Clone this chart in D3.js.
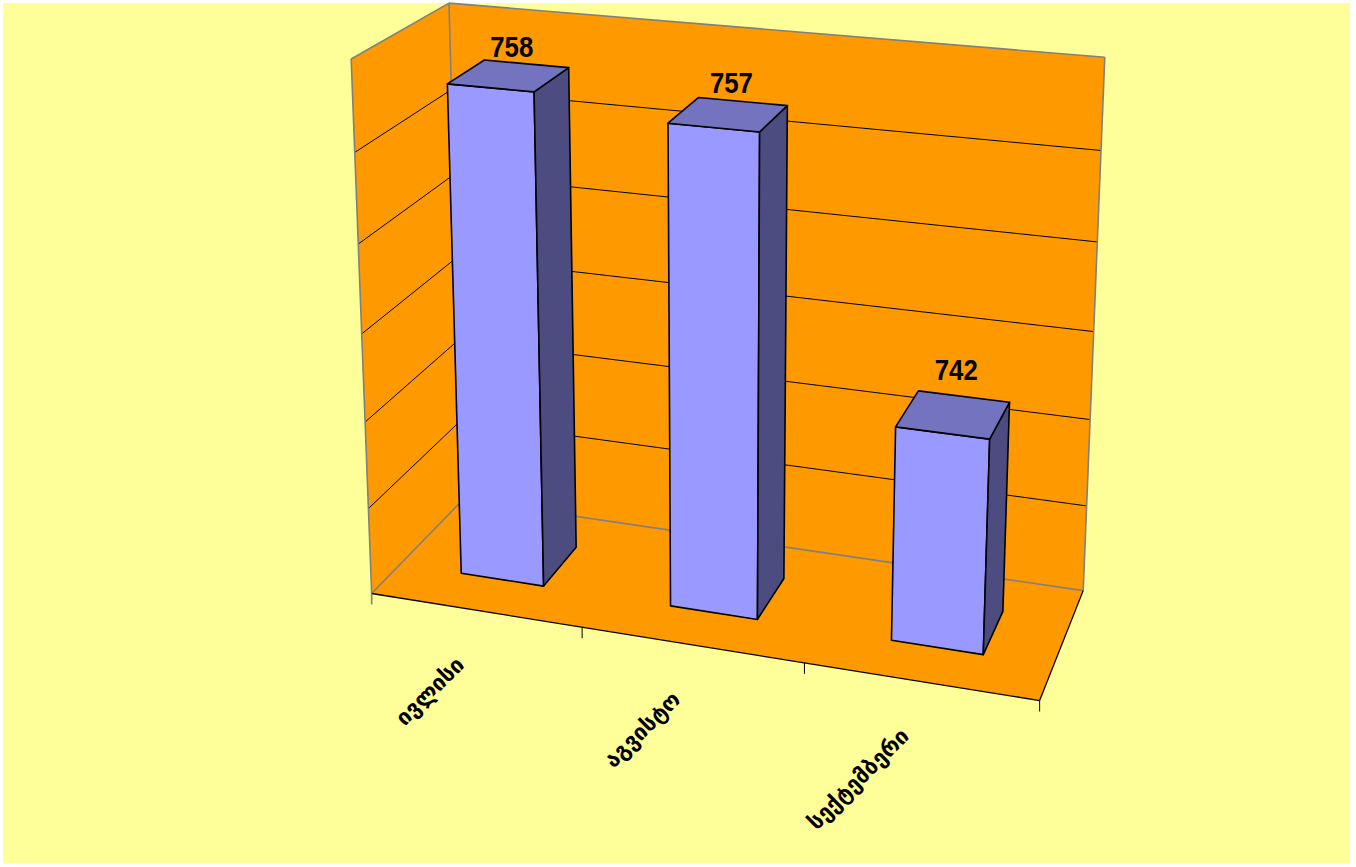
<!DOCTYPE html>
<html>
<head>
<meta charset="utf-8">
<script src="https://cdn.jsdelivr.net/npm/d3@7/dist/d3.min.js"></script>
<style>
  html, body { margin: 0; padding: 0; background: #ffffff; }
  svg { display: block; }
</style>
</head>
<body>
<svg id="chart" width="1356" height="867"></svg>
<script>
// ---------------- data ----------------
const categories = ["ივლისი", "აგვისტო", "სექტემბერი"];
const values = [758, 757, 742];
const valueTicks = [730, 735, 740, 745, 750, 755, 760];

// camera calibration: world (X category 0..1, Y value 0..1, Z depth 0 back..1 front) -> screen
const calib = [
  [0, 1, 0, 449, 3],
  [1, 1, 0, 1105, 58],
  [1, 0, 0, 1083, 591],
  [0, 1, 1, 351, 59],
  [0, 0, 1, 372, 593],
  [1, 0, 1, 1040, 700],
  [1/3, 0, 1, 582, 628],
  [2/3, 0, 1, 804, 663],
  [1, 5/6, 0, 1101, 150],
  [1, 4/6, 0, 1097, 242],
  [1, 3/6, 0, 1094, 331]
];

// ---------------- camera fit (DLT least squares) ----------------
function fitCamera(pts) {
  const A = [], b = [];
  for (const [X, Y, Z, u0, v0] of pts) {
    const u = u0 / 1000, v = v0 / 1000;
    A.push([X, Y, Z, 1, 0, 0, 0, 0, -u * X, -u * Y, -u * Z]); b.push(u);
    A.push([0, 0, 0, 0, X, Y, Z, 1, -v * X, -v * Y, -v * Z]); b.push(v);
  }
  const n = 11;
  const M = [];
  for (let i = 0; i < n; i++) {
    const row = new Array(n + 1).fill(0);
    for (let j = 0; j < n; j++) {
      let s = 0;
      for (let k = 0; k < A.length; k++) s += A[k][i] * A[k][j];
      row[j] = s;
    }
    let s = 0;
    for (let k = 0; k < A.length; k++) s += A[k][i] * b[k];
    row[n] = s;
    M.push(row);
  }
  for (let c = 0; c < n; c++) {
    let piv = c;
    for (let r = c + 1; r < n; r++) if (Math.abs(M[r][c]) > Math.abs(M[piv][c])) piv = r;
    [M[c], M[piv]] = [M[piv], M[c]];
    for (let r = 0; r < n; r++) {
      if (r === c) continue;
      const f = M[r][c] / M[c][c];
      for (let k = c; k <= n; k++) M[r][k] -= f * M[c][k];
    }
  }
  return M.map((row, i) => row[n] / row[i]);
}
const P = fitCamera(calib);
function project(X, Y, Z) {
  const w = P[8] * X + P[9] * Y + P[10] * Z + 1;
  return [1000 * (P[0] * X + P[1] * Y + P[2] * Z + P[3]) / w,
          1000 * (P[4] * X + P[5] * Y + P[6] * Z + P[7]) / w];
}

// ---------------- scales ----------------
const xBand = d3.scaleBand().domain(categories).range([0, 1]).paddingInner(0.6).paddingOuter(0.3);
const xCat = d3.scaleBand().domain(categories).range([0, 1]);
const yScale = d3.scaleLinear().domain([730, 760]).range([0, 1]);
const zFront = 0.7, zBack = 0.3;

const svg = d3.select("#chart");
const line = d3.line();
const poly = pts => line(pts.map(p => project(...p))) + "Z";
const seg = (a, b) => line([project(...a), project(...b)]);

// background
svg.append("rect").attr("x", 3).attr("y", 3).attr("width", 1347).attr("height", 860).attr("fill", "#FFFF99");

const WALL = "#FF9900";
// walls and floor
svg.append("path").attr("d", poly([[0,0,0],[1,0,0],[1,1,0],[0,1,0]])).attr("fill", WALL);
svg.append("path").attr("d", poly([[0,0,0],[0,0,1],[0,1,1],[0,1,0]])).attr("fill", WALL);
svg.append("path").attr("d", poly([[0,0,0],[1,0,0],[1,0,1],[0,0,1]])).attr("fill", WALL);

// gridlines
const gridVals = valueTicks.slice(1, -1);
const g = svg.append("g");
gridVals.forEach(v => {
  const y = yScale(v);
  g.append("path").attr("d", seg([0, y, 0], [1, y, 0])).attr("stroke", "#000").attr("stroke-width", 1).attr("fill", "none");
  g.append("path").attr("d", seg([0, y, 1], [0, y, 0])).attr("stroke", "#000").attr("stroke-width", 1).attr("fill", "none");
});

// grey wall edges
const GREY = "#808080";
[
  [[0,1,0],[1,1,0]], [[1,1,0],[1,0,0]], [[1,0,0],[0,0,0]], [[0,0,0],[0,1,0]],
  [[0,1,0],[0,1,1]], [[0,1,1],[0,0,1]], [[0,0,1],[0,0,0]]
].forEach(([a, b]) => {
  svg.append("path").attr("d", seg(a, b)).attr("stroke", GREY).attr("stroke-width", 1.6).attr("fill", "none");
});

// floor black edges
svg.append("path").attr("d", seg([0,0,1],[1,0,1])).attr("stroke", "#000").attr("stroke-width", 1.3).attr("fill", "none");
svg.append("path").attr("d", seg([1,0,1],[1,0,0])).attr("stroke", "#000").attr("stroke-width", 1.3).attr("fill", "none");

// ticks
const tickPos = [0, ...categories.map(c => xCat(c) + xCat.bandwidth())];
tickPos.forEach((t, i) => {
  const [px, py] = project(t, 0, 1);
  svg.append("line").attr("x1", px).attr("y1", py).attr("x2", px).attr("y2", py + 11)
    .attr("stroke", i === 0 ? GREY : "#000").attr("stroke-width", i === 0 ? 1.6 : 1);
});

// bars
const bars = svg.append("g");
categories.forEach((c, i) => {
  const x0 = xBand(c), x1 = x0 + xBand.bandwidth();
  const y0 = yScale(730), y1 = yScale(values[i]);
  const faces = [
    { pts: [[x0,y0,zFront],[x1,y0,zFront],[x1,y1,zFront],[x0,y1,zFront]], fill: "#9999FF" },
    { pts: [[x1,y0,zFront],[x1,y0,zBack],[x1,y1,zBack],[x1,y1,zFront]], fill: "#4C4C80" },
    { pts: [[x0,y1,zFront],[x1,y1,zFront],[x1,y1,zBack],[x0,y1,zBack]], fill: "#7373BF" }
  ];
  faces.forEach(f => {
    bars.append("path").attr("d", poly(f.pts)).attr("fill", f.fill)
      .attr("stroke", "#000").attr("stroke-width", 1.6).attr("stroke-linejoin", "round");
  });
});

// data labels (condensed bold)
categories.forEach((c, i) => {
  const xc = xBand(c) + xBand.bandwidth() / 2;
  const yv = yScale(values[i]);
  const px = project(xc, yv, 0.5)[0];
  const py = project(xc, yv, -0.05)[1];
  svg.append("text").attr("transform", `translate(${px + 3},${py + 13}) scale(0.86,1)`)
    .attr("text-anchor", "middle")
    .attr("font-family", "'Liberation Sans', Arial, sans-serif")
    .attr("font-weight", "bold").attr("font-size", 30).attr("fill", "#000")
    .text(values[i]);
});

// category labels
categories.forEach(c => {
  const xc = xCat(c) + xCat.bandwidth() / 2;
  const [px, py] = project(xc, 0, 1);
  const ax = px - 10, ay = py + 56;
  svg.append("text").attr("transform", `translate(${ax},${ay}) rotate(-45)`)
    .attr("text-anchor", "end")
    .attr("font-family", "'DejaVu Sans', sans-serif")
    .attr("font-weight", "bold")
    .attr("font-size", 22).attr("fill", "#000")
    .text(c);
});
</script>
</body>
</html>
